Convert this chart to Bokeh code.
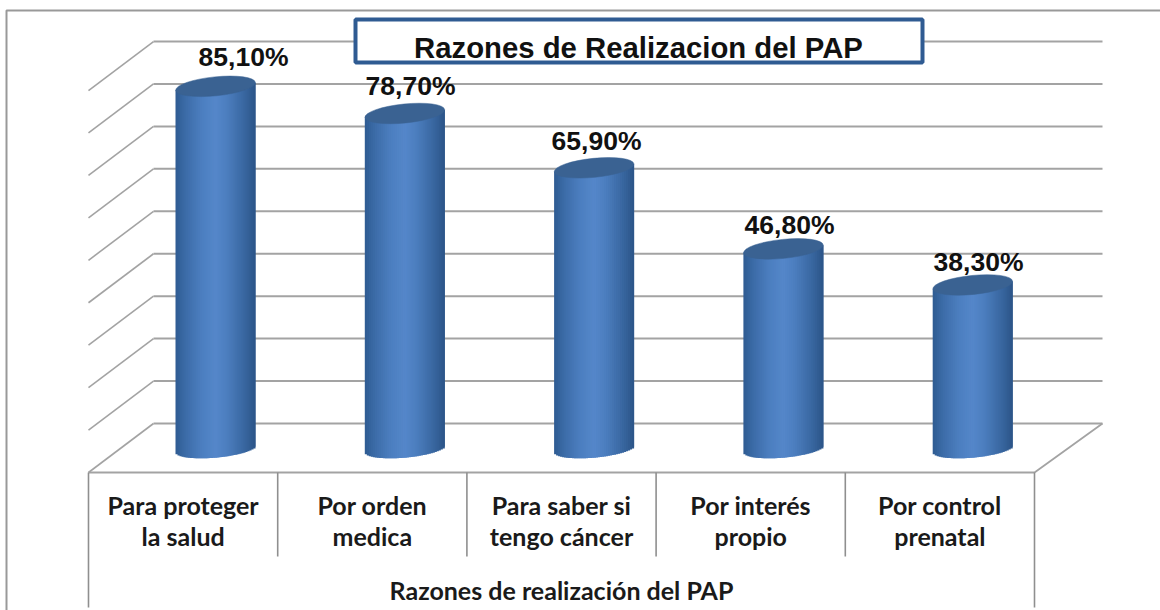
from bokeh.plotting import figure
from bokeh.embed import file_html
from bokeh.resources import INLINE
from bokeh.models import Range1d
from bokeh.core.properties import value
import numpy as np

categories = ["Para proteger\nla salud", "Por orden\nmedica", "Para saber si\ntengo cáncer", "Por interés\npropio", "Por control\nprenatal"]
values = [85.1, 78.7, 65.9, 46.8, 38.3]
value_labels = ["85,10%", "78,70%", "65,90%", "46,80%", "38,30%"]
wall_ticks = [0, 10, 20, 30, 40, 50, 60, 70, 80, 90]
title_text = "Razones de Realizacion del PAP"
axis_title = "Razones de realización del PAP"

W, H = 1160, 610
PX_X, ORIGIN_X = 189.3, 215.0
PX_Y, ORIGIN_Y = 4.244, 447.0
def dx(px): return (px - ORIGIN_X) / PX_X
def dy(py): return (ORIGIN_Y - py) / PX_Y

p = figure(width=W, height=H, output_backend="svg", toolbar_location=None,
           x_range=Range1d(dx(0), dx(W)), y_range=Range1d(dy(H), dy(0)),
           min_border=0, outline_line_color=None, background_fill_color="white",
           border_fill_color="white", x_axis_type="linear")
p.xaxis.visible = False
p.yaxis.visible = False
p.grid.visible = False

GRID = "#a3a3a3"
wall_left, wall_right = dx(153), dx(1102)
floor_left, floor_right = dx(88), dx(1034)
wall_dy = 24 / PX_Y
floor_dy = -25 / PX_Y

# outer frame
p.line([dx(6), dx(6), dx(1160)], [dy(610), dy(10), dy(10)], line_color="#999999", line_width=2)

# back wall and side wall gridlines
for t in wall_ticks:
    y = t + wall_dy
    p.line([wall_left, wall_right], [y, y], line_color=GRID, line_width=2)
    p.line([floor_left, wall_left], [t + floor_dy, y], line_color=GRID, line_width=1.6)
# floor
p.line([floor_left, floor_right, wall_right], [floor_dy, floor_dy, wall_dy], line_color=GRID, line_width=1.8)
# category table
n = len(categories)
cat_w = (floor_right - floor_left) / n
for k in range(n + 1):
    xk = floor_left + k * cat_w
    bottom = dy(607) if k in (0, n) else dy(556)
    p.line([xk, xk], [floor_dy, bottom], line_color="#8f8f8f", line_width=1.6)

# cylinders
stops_u = [-1.0, -0.75, -0.35, 0.0, 0.3, 0.7, 1.0]
stops_c = [(0x2f,0x5c,0x92), (0x3c,0x6c,0xa8), (0x4c,0x7f,0xc0), (0x55,0x87,0xca), (0x4c,0x7e,0xbe), (0x3a,0x68,0xa2), (0x2c,0x55,0x88)]
half_w = 40 / PX_X
tilt = 3.8 / PX_Y
base_h = 9.0 / PX_Y
N = 40
edges = np.linspace(-1, 1, N + 1)
for i, v in enumerate(values):
    l, r, t, b, c = [], [], [], [], []
    for a, e in zip(edges[:-1], edges[1:]):
        u = (a + e) / 2
        l.append(i + a * half_w); r.append(i + min(1.0, e + 2.0 / N) * half_w)
        t.append(v + tilt * u)
        b.append(tilt * u - 0.25 - base_h * np.sqrt(max(0, 1 - u * u)))
        rgb = [int(np.interp(u, stops_u, [s[j] for s in stops_c])) for j in range(3)]
        c.append("#%02x%02x%02x" % tuple(rgb))
    p.quad(left=l, right=r, top=t, bottom=b, fill_color=c, line_color=None)
    p.ellipse(x=[i], y=[v], width=[80], height=[19], angle=[0.1], width_units="screen", height_units="screen",
              fill_color="#3a6292", line_color="#3a6292", line_width=0.5)

# title box
p.quad(left=[dx(355)], right=[dx(922)], top=[dy(19)], bottom=[dy(62)], fill_color="white",
       line_color="#2f5b92", line_width=4)
p.text(x=[dx(638)], y=[dy(46.5)], text=[title_text], text_align="center", text_baseline="middle",
       text_font=value("Liberation Sans"), text_font_style="bold", text_font_size="29.3px", text_color="#111111")

# value labels
label_x = [243, 410, 596, 789, 978]
label_off = [29, 27, 27, 24, 23]
p.text(x=[dx(a) for a in label_x], y=values, y_offset=[-o for o in label_off], text=value_labels,
       text_align="center", text_baseline="middle", text_font=value("Liberation Sans"),
       text_font_style="bold", text_font_size="26.5px", text_color="#111111")

# category labels
for k, cat in enumerate(categories):
    lines = cat.split("\n")
    xc = floor_left + (k + 0.5) * cat_w
    p.text(x=[xc], y=[dy(504.5)], text=[lines[0]], text_align="center", text_baseline="middle",
           text_font=value("Lato"), text_font_style="bold", text_font_size="25px", text_color="#1a1a1a")
    p.text(x=[xc], y=[dy(535.5)], text=[lines[1]], text_align="center", text_baseline="middle",
           text_font=value("Lato"), text_font_style="bold", text_font_size="25px", text_color="#1a1a1a")
p.text(x=[dx(561)], y=[dy(589)], text=[axis_title], text_align="center", text_baseline="middle",
       text_font=value("Lato"), text_font_style="bold", text_font_size="25px", text_color="#1a1a1a")

open("out.html", "w").write(file_html(p, INLINE))
